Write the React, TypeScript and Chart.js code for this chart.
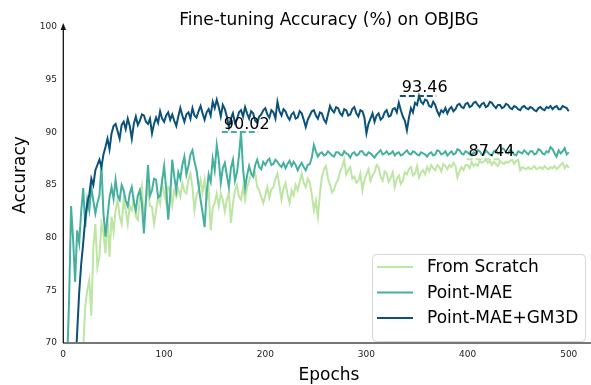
import React, { useEffect, useRef } from "react";
import { Chart, registerables } from "chart.js";

Chart.register(...registerables);

const FONT = "'DejaVu Sans', 'Liberation Sans', sans-serif";

// epochs sampled every 2 epochs (0..500)
const epochs: number[] = Array.from({ length: 251 }, (_, i) => i * 2);

const xTicks = [0, 100, 200, 300, 400, 500];
const yTicks = [70, 75, 80, 85, 90, 95, 100];

const seriesNames = ["From Scratch", "Point-MAE", "Point-MAE+GM3D"];
const seriesColors = ["#bde5a4", "#46b09e", "#0b5179"];

const fromScratch = [
  50, 52, 55, 57, 60, 62, 64, 65.5, 67, 68.5,
  69.5, 73.5, 75.0, 76.0, 72.6, 79.1, 81.3, 77.2, 78.2, 81.3,
  80.4, 78.5, 82.0, 78.2, 82.0, 80.5, 82.6, 83.6, 82.0, 81.3,
  83.6, 82.6, 81.3, 83.0, 82.6, 83.6, 82.0, 81.7, 83.6, 84.8,
  81.7, 83.5, 84.8, 83.0, 82.9, 81.3, 82.5, 83.9, 83.2, 85.2,
  84.2, 83.3, 84.8, 84.5, 83.1, 84.5, 83.9, 84.6, 83.9, 85.2,
  84.4, 84.2, 85.5, 86.1, 84.8, 82.6, 84.0, 84.5, 85.5, 84.3,
  85.5, 83.6, 84.6, 80.7, 82.8, 83.3, 84.2, 83.0, 84.2, 83.6,
  82.5, 83.6, 84.3, 81.4, 83.2, 84.5, 85.0, 83.9, 83.6, 84.8,
  83.6, 84.8, 85.4, 86.1, 85.8, 86.1, 84.8, 84.5, 83.9, 83.3,
  84.0, 84.8, 83.8, 84.6, 84.8, 85.6, 86.1, 84.9, 83.6, 84.7,
  85.2, 84.1, 83.3, 84.5, 84.0, 85.0, 84.5, 85.3, 86.1, 85.2,
  84.8, 85.6, 85.2, 84.1, 82.6, 83.5, 82.0, 84.2, 85.8, 86.5,
  86.8, 85.6, 85.0, 84.3, 84.6, 85.2, 85.5, 86.3, 86.7, 87.4,
  86.0, 86.4, 86.7, 85.6, 85.8, 85.2, 85.4, 86.1, 84.5, 85.5,
  86.0, 86.5, 85.4, 85.9, 86.2, 86.9, 86.7, 85.8, 85.4, 86.3,
  86.1, 85.3, 85.7, 86.2, 84.8, 85.6, 85.9, 85.1, 85.4, 86.2,
  86.0, 86.5, 86.7, 85.9, 86.1, 86.8, 85.7, 86.2, 86.4, 86.0,
  86.7, 86.3, 86.9, 86.6, 86.4, 86.9, 86.7, 86.3, 87.0, 86.8,
  86.5, 86.9, 86.7, 87.1, 86.8, 85.7, 86.3, 86.7, 86.4, 86.9,
  86.9, 86.6, 87.2, 86.8, 87.0, 86.8, 87.3, 87.1, 87.2, 87.44,
  87.1, 87.3, 86.9, 87.2, 87.0, 86.8, 87.3, 87.1, 87.0, 87.2,
  87.1, 87.3, 87.4, 87.0, 87.3, 87.4, 86.4, 86.7, 86.6, 86.5,
  86.7, 86.5, 86.6, 86.8, 86.5, 86.6, 86.7, 86.5, 86.8, 86.6,
  86.5, 86.7, 86.6, 86.8, 86.5, 86.7, 86.9, 87.1, 86.6, 86.9,
  86.6,
];

const pointMAE = [
  60, 64, 68, 74, 83.0, 79.8, 75.8, 80.7, 79.5, 82.5,
  84.7, 81.0, 83.6, 82.6, 84.8, 83.5, 82.3, 83.3, 84.0, 86.9,
  82.3, 80.1, 82.0, 83.8, 84.8, 83.7, 85.5, 84.0, 83.6, 85.0,
  84.5, 83.5, 83.0, 84.2, 84.8, 83.4, 82.6, 84.0, 84.5, 83.2,
  80.4, 83.6, 86.9, 84.0, 84.5, 85.6, 85.5, 83.8, 84.0, 85.4,
  86.8, 84.6, 81.7, 84.0, 87.4, 85.8, 84.5, 86.2, 85.6, 86.9,
  87.7, 86.0, 86.8, 87.9, 88.3, 87.2, 86.4, 85.0, 83.6, 82.4,
  81.0, 84.2, 86.0, 85.3, 87.5, 86.4, 88.8, 87.4, 85.2, 86.6,
  87.1, 85.9, 84.8, 86.6, 87.4, 85.4, 86.2, 87.8, 90.02, 86.5,
  84.7, 85.9, 86.8, 86.1, 85.8, 86.9, 87.4, 86.7, 86.5, 87.2,
  86.9, 87.3, 87.5, 86.9, 87.0, 87.4, 87.2, 86.9, 86.7, 87.1,
  86.6, 87.0, 87.3, 86.8, 87.2, 86.9, 86.4, 86.8, 87.1, 86.7,
  86.4, 86.9, 87.0, 87.6, 88.8, 88.2, 87.7, 88.0, 88.1, 87.8,
  87.9, 88.2, 88.0, 87.8, 87.7, 88.1, 88.1, 87.9, 87.8, 88.2,
  88.0, 87.9, 87.6, 88.0, 88.1, 87.8, 87.9, 88.2, 88.2, 87.9,
  87.8, 88.1, 88.0, 87.8, 87.6, 87.9, 88.1, 88.3, 87.9, 88.0,
  88.2, 87.9, 88.0, 88.2, 87.8, 88.0, 88.1, 87.8, 87.9, 88.1,
  88.3, 88.0, 87.9, 88.2, 88.1, 87.9, 87.8, 88.1, 88.0, 87.9,
  87.7, 88.0, 88.1, 87.8, 87.9, 88.3, 88.2, 87.9, 88.0, 88.2,
  87.8, 88.0, 88.2, 87.9, 88.0, 88.4, 88.3, 88.0, 87.9, 88.2,
  88.1, 87.9, 87.8, 88.1, 88.0, 88.3, 88.2, 87.9, 87.9, 88.3,
  88.1, 87.9, 87.8, 88.2, 88.3, 88.0, 88.0, 88.5, 88.4, 88.1,
  88.0, 88.3, 88.2, 87.9, 87.8, 88.2, 88.1, 88.0, 88.3, 88.1,
  87.9, 88.2, 88.2, 87.9, 88.0, 88.4, 88.3, 88.0, 87.9, 88.2,
  88.1, 88.6, 88.4, 88.0, 87.7, 88.3, 88.0, 88.2, 88.5, 87.9,
  88.1,
];

const pointMAEGM3D = [
  45, 48, 52, 56, 60, 64, 67, 71, 74.8, 77.5,
  79.5, 81.8, 83.2, 84.1, 85.6, 85.0, 86.4, 86.9, 87.4, 86.7,
  87.9, 88.6, 89.4, 88.4, 89.9, 90.6, 90.8, 90.1, 89.4, 90.7,
  91.0, 90.3, 91.3, 90.6, 89.4, 90.8, 91.5, 90.7, 91.1, 91.7,
  91.6, 91.0, 90.8, 91.3, 89.9, 90.8, 91.4, 90.9, 92.0, 91.3,
  91.0, 91.6, 91.9, 91.2, 91.7, 91.1, 90.6, 91.5, 92.3, 91.6,
  91.0, 91.7, 91.9, 91.3, 92.3, 91.6, 91.4, 92.0, 92.5, 91.8,
  91.2, 91.9, 92.2, 91.6, 92.9, 92.3, 93.1, 92.4, 91.5, 92.6,
  92.2, 91.5, 90.5, 91.3, 91.8, 90.9, 91.2, 91.9, 92.1, 91.5,
  92.4, 91.8, 91.3, 92.0, 91.8, 91.1, 90.9, 91.5, 91.7, 92.1,
  92.3, 91.7, 91.4, 92.1, 91.9, 91.3, 92.9, 92.0, 91.6, 92.2,
  92.0, 91.5, 91.2, 91.7, 91.9, 91.3, 91.4, 92.0, 91.8, 91.2,
  90.5, 91.2, 91.6, 92.0, 92.1, 91.6, 91.3, 91.9, 91.8, 91.2,
  90.9, 91.7, 92.5, 92.1, 91.9, 92.4, 92.3, 91.8, 91.6, 92.2,
  92.1, 91.6, 91.7, 92.2, 92.4, 91.8, 91.5, 92.1, 92.0, 91.4,
  89.9, 90.8, 91.3, 91.8, 91.0, 91.6, 91.8, 91.2, 91.4, 91.9,
  92.1, 91.5, 91.6, 92.2, 92.3, 91.9, 92.8, 92.1, 91.5, 91.1,
  90.2, 91.4, 92.3, 91.9, 92.8, 92.6, 93.46, 92.9, 92.7, 93.1,
  93.0, 92.5, 92.4, 92.9, 92.6, 92.0, 91.6, 92.1, 91.9, 92.3,
  91.8, 92.2, 92.4, 92.0, 92.2, 92.6, 92.7, 92.4, 92.3, 92.7,
  92.8, 92.4, 92.5, 92.8, 92.9, 92.6, 92.4, 92.7, 92.8, 92.4,
  92.5, 92.9, 92.8, 92.5, 92.3, 92.6, 92.6, 92.3, 92.4, 92.7,
  92.6, 92.3, 92.2, 92.5, 92.4, 92.2, 92.1, 92.4, 92.5, 92.3,
  92.2, 92.4, 92.3, 92.1, 92.0, 92.3, 92.4, 92.2, 92.1, 92.4,
  92.3, 92.5, 92.2, 92.4, 92.5, 92.2, 92.2, 92.5, 92.4, 92.3,
  92.0,
];

const allSeries = [fromScratch, pointMAE, pointMAEGM3D];
const drawOrder = [3, 2, 1];

function buildDatasets() {
  const lines = allSeries.map((vals, i) => ({
    label: seriesNames[i],
    data: vals.map((v, j) => ({ x: epochs[j], y: v })),
    borderColor: seriesColors[i],
    backgroundColor: seriesColors[i],
    borderWidth: 2,
    pointRadius: 0,
    tension: 0,
    fill: false,
    order: drawOrder[i],
    isAnnot: false,
  }));
  const annots = allSeries.map((vals, i) => {
    const mx = Math.max(...vals);
    const ep = epochs[vals.indexOf(mx)];
    return {
      label: mx.toFixed(2),
      data: [
        { x: ep - 19, y: mx },
        { x: ep + 17, y: mx },
      ],
      borderColor: seriesColors[i],
      borderWidth: 2,
      borderDash: [6, 3],
      pointRadius: 0,
      fill: false,
      order: 0,
      isAnnot: true,
    };
  });
  return [...lines, ...annots];
}

const decorPlugin = {
  id: "decor",
  afterDraw(chart: any) {
    const { ctx, chartArea: a, scales } = chart;
    const x = scales.x;
    const y = scales.y;
    ctx.save();

    // x axis line
    ctx.strokeStyle = "#777777";
    ctx.lineWidth = 2;
    ctx.beginPath();
    ctx.moveTo(a.left, a.bottom);
    ctx.lineTo(chart.width, a.bottom);
    ctx.stroke();

    // y axis with arrow
    ctx.strokeStyle = "#111111";
    ctx.fillStyle = "#111111";
    ctx.lineWidth = 1.3;
    ctx.beginPath();
    ctx.moveTo(a.left + 0.3, a.bottom);
    ctx.lineTo(a.left + 0.3, a.top - 1);
    ctx.stroke();
    ctx.beginPath();
    ctx.moveTo(a.left + 0.3, a.top - 4);
    ctx.lineTo(a.left - 2.4, a.top + 3);
    ctx.lineTo(a.left + 3, a.top + 3);
    ctx.closePath();
    ctx.fill();

    // title
    ctx.fillStyle = "#000";
    ctx.font = `17px ${FONT}`;
    ctx.textAlign = "center";
    ctx.textBaseline = "alphabetic";
    ctx.fillText("Fine-tuning Accuracy (%) on OBJBG", 329, 25);

    // axis titles
    ctx.textBaseline = "middle";
    ctx.fillText("Epochs", 329, 376);
    ctx.save();
    ctx.translate(21, 175);
    ctx.rotate(-Math.PI / 2);
    ctx.fillText("Accuracy", 0, 0);
    ctx.restore();

    // max annotations
    ctx.font = `16px ${FONT}`;
    ctx.textAlign = "left";
    ctx.textBaseline = "alphabetic";
    chart.data.datasets.forEach((d: any) => {
      if (!d.isAnnot) return;
      const px = x.getPixelForValue(d.data[0].x) + 2;
      const py = y.getPixelForValue(d.data[0].y) - 3.5;
      ctx.fillText(d.label, px, py);
    });

    // legend
    const bx = 372, by = 254, bw = 213, bh = 87;
    ctx.fillStyle = "rgba(255,255,255,0.85)";
    ctx.strokeStyle = "#d6d6d6";
    ctx.lineWidth = 1;
    ctx.beginPath();
    (ctx as any).roundRect(bx + 0.5, by + 0.5, bw, bh, 4);
    ctx.fill();
    ctx.stroke();
    const items = chart.data.datasets.filter((d: any) => !d.isAnnot);
    ctx.font = `17px ${FONT}`;
    ctx.textBaseline = "middle";
    items.forEach((d: any, i: number) => {
      const ly = 267 + i * 25.5;
      ctx.strokeStyle = d.borderColor;
      ctx.lineWidth = 2.2;
      ctx.beginPath();
      ctx.moveTo(377, ly);
      ctx.lineTo(413, ly);
      ctx.stroke();
      ctx.fillStyle = "#000";
      ctx.fillText(d.label, 427, ly + 1);
    });

    ctx.restore();
  },
};

export default function App() {
  const ref = useRef<HTMLCanvasElement | null>(null);
  useEffect(() => {
    if (!ref.current) return;
    const chart = new Chart(ref.current, {
      type: "line",
      data: { datasets: buildDatasets() as any },
      options: {
        responsive: false,
        animation: false,
        layout: { padding: { top: 27, left: 0, right: 0, bottom: 0 } },
        plugins: {
          legend: { display: false },
          title: { display: false },
          tooltip: { enabled: false },
        },
        scales: {
          x: {
            type: "linear",
            min: 0,
            max: 522,
            grid: { display: false, drawTicks: false },
            border: { display: false },
            afterBuildTicks: (s: any) => {
              s.ticks = xTicks.map((v) => ({ value: v }));
            },
            afterFit: (s: any) => {
              s.height = 42;
            },
            ticks: {
              font: { family: FONT, size: 9 },
              color: "#222",
              padding: 6,
              maxRotation: 0,
              autoSkip: false,
            },
          },
          y: {
            type: "linear",
            min: 70,
            max: 100,
            grid: { display: false, drawTicks: false },
            border: { display: false },
            afterBuildTicks: (s: any) => {
              s.ticks = yTicks.map((v) => ({ value: v }));
            },
            afterFit: (s: any) => {
              s.width = 63;
            },
            ticks: {
              font: { family: FONT, size: 9 },
              color: "#222",
              padding: 6,
            },
          },
        },
      } as any,
      plugins: [decorPlugin],
    });
    return () => chart.destroy();
  }, []);
  return (
    <div style={{ position: "fixed", left: 0, top: 0, width: 591, height: 385, background: "#fff" }}>
      <canvas ref={ref} width={591} height={385} style={{ width: 591, height: 385 }} />
    </div>
  );
}
